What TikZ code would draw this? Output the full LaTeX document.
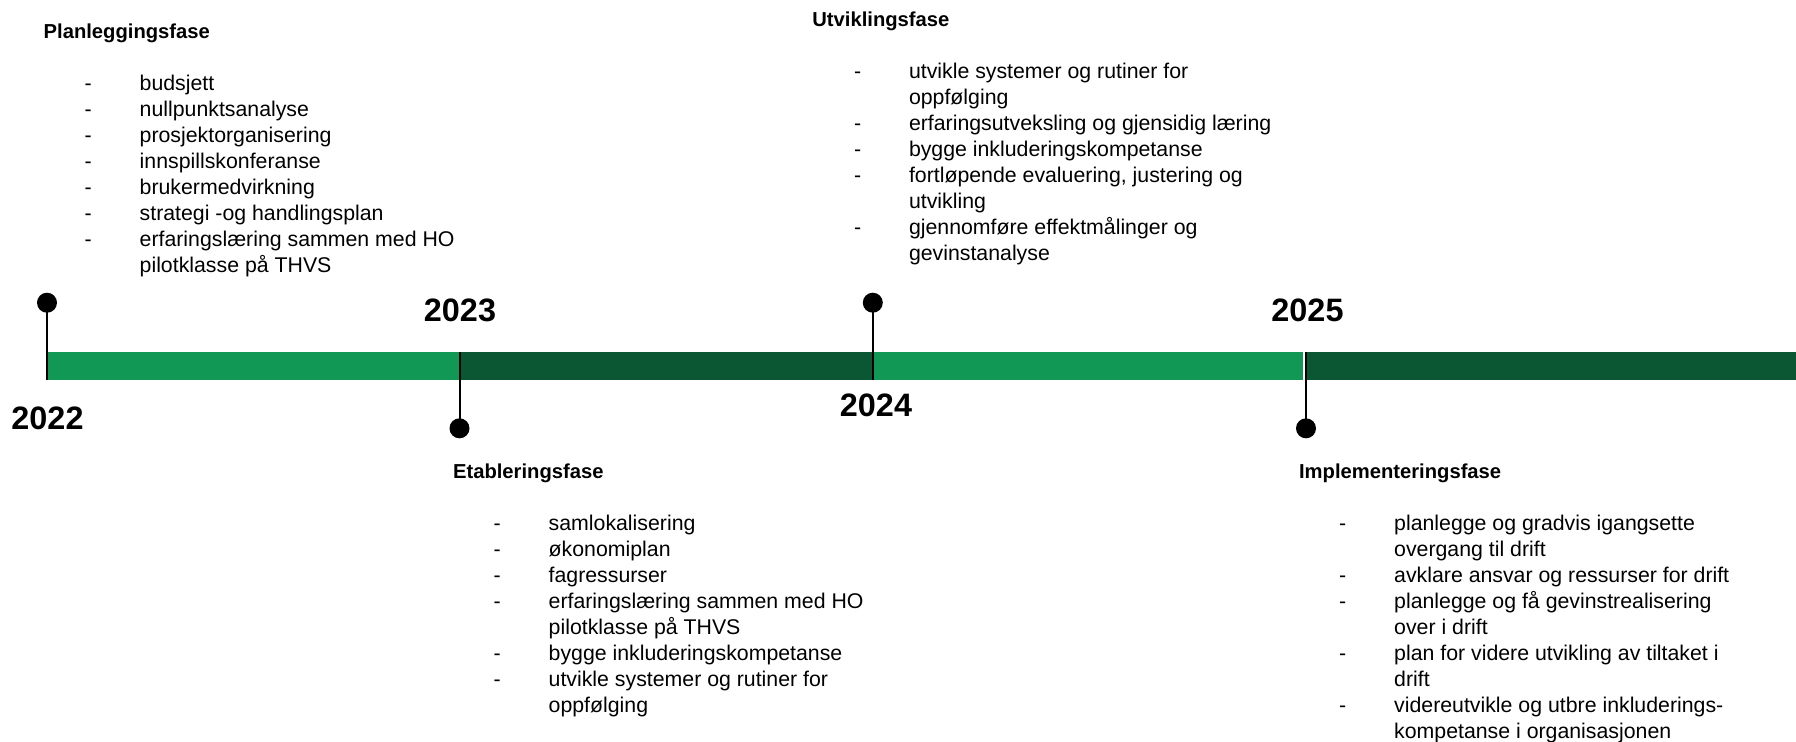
\documentclass[tikz,border=0pt]{standalone}
\usepackage{fontspec}
\setmainfont{Liberation Sans}
\definecolor{lgreen}{RGB}{18,152,85}
\definecolor{dgreen}{RGB}{11,87,52}
\begin{document}
\begin{tikzpicture}[x=0.5pt,y=-0.5pt,
  phase/.style={anchor=base west,inner sep=0pt,font=\fontsize{10.1}{12}\selectfont\bfseries},
  items/.style={anchor=base west,inner sep=0pt,font=\fontsize{10.65}{13}\selectfont},
  year/.style={anchor=base,inner sep=0pt,font=\fontsize{16.2}{18}\selectfont\bfseries},
  dot/.style={circle,fill=black,inner sep=0pt,minimum size=10pt},
  stem/.style={line width=1pt,draw=black}]
\useasboundingbox (0,0) rectangle (1796,741);

% bar
\fill[lgreen] (48,352) rectangle (459.5,380);
\fill[dgreen] (459.5,352) rectangle (872.8,380);
\fill[lgreen] (872.8,352) rectangle (1302.7,380);
\fill[dgreen] (1307,352) rectangle (1796,380);

% dots and stems
\node[dot] (d22) at (47,302.7) {};
\node[dot] (d23) at (459.5,428.3) {};
\node[dot] (d24) at (872.8,302.7) {};
\node[dot] (d25) at (1306,428.3) {};
\coordinate (b22) at (47,380);
\coordinate (b23) at (459.5,352);
\coordinate (b24) at (872.8,380);
\coordinate (b25) at (1306,352);
\draw[stem] (d22.center) -- (b22);
\draw[stem] (b23) -- (d23.center);
\draw[stem] (d24.center) -- (b24);
\draw[stem] (b25) -- (d25.center);

% years
\node[year] (y22) at (47.5,429) {2022};
\node[year] (y23) at (460,321.7) {2023};
\node[year] (y24) at (876,416.7) {2024};
\node[year] (y25) at (1307.5,321.7) {2025};

% phases
\node[phase] (p1) at (43.3,38.5) {Planleggingsfase};
\node[items] (l1) at (84.3,90) {\begin{tabular}[t]{@{}p{27.5pt}@{}l@{}}
-&budsjett\\
-&nullpunktsanalyse\\
-&prosjektorganisering\\
-&innspillskonferanse\\
-&brukermedvirkning\\
-&strategi -og handlingsplan\\
-&erfaringslæring sammen med HO\\
&pilotklasse på THVS
\end{tabular}};

\node[phase] (p2) at (452.7,478.3) {Etableringsfase};
\node[items] (l2) at (493.3,530) {\begin{tabular}[t]{@{}p{27.5pt}@{}l@{}}
-&samlokalisering\\
-&økonomiplan\\
-&fagressurser\\
-&erfaringslæring sammen med HO\\
&pilotklasse på THVS\\
-&bygge inkluderingskompetanse\\
-&utvikle systemer og rutiner for\\
&oppfølging
\end{tabular}};

\node[phase] (p3) at (812,26) {Utviklingsfase};
\node[items] (l3) at (853.6,78.3) {\begin{tabular}[t]{@{}p{27.5pt}@{}l@{}}
-&utvikle systemer og rutiner for\\
&oppfølging\\
-&erfaringsutveksling og gjensidig læring\\
-&bygge inkluderingskompetanse\\
-&fortløpende evaluering, justering og\\
&utvikling\\
-&gjennomføre effektmålinger og\\
&gevinstanalyse
\end{tabular}};

\node[phase] (p4) at (1298.7,478.3) {Implementeringsfase};
\node[items] (l4) at (1338.8,530) {\begin{tabular}[t]{@{}p{27.5pt}@{}l@{}}
-&planlegge og gradvis igangsette\\
&overgang til drift\\
-&avklare ansvar og ressurser for drift\\
-&planlegge og få gevinstrealisering\\
&over i drift\\
-&plan for videre utvikling av tiltaket i\\
&drift\\
-&videreutvikle og utbre inkluderings-\\
&kompetanse i organisasjonen
\end{tabular}};
\end{tikzpicture}
\end{document}
